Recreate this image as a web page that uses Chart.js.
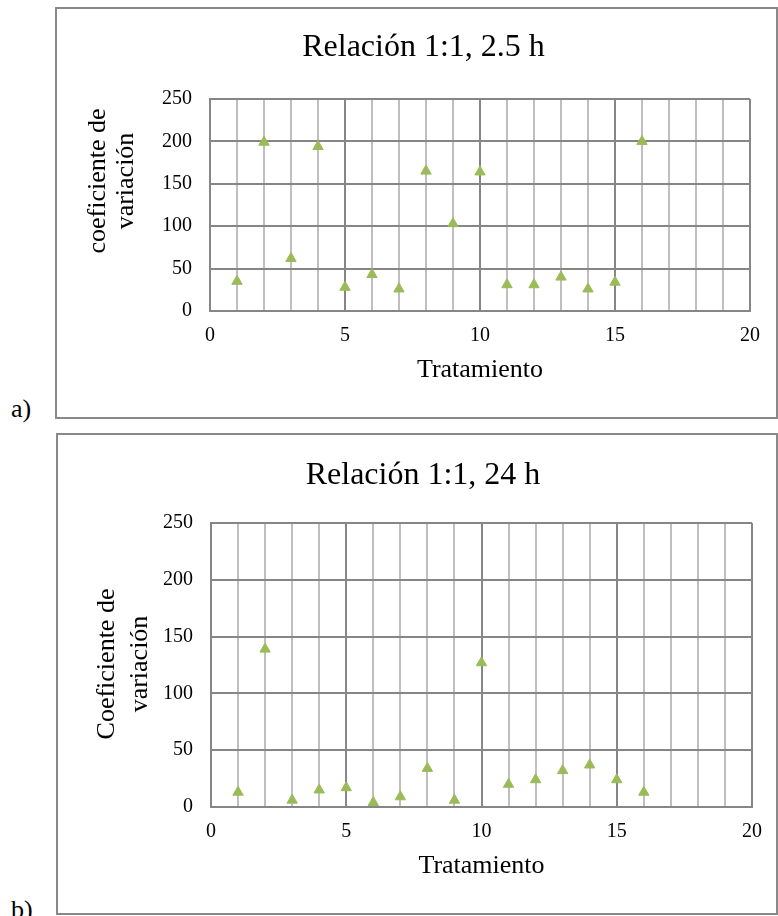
<!DOCTYPE html>
<html>
<head>
<meta charset="utf-8">
<script src="https://cdn.jsdelivr.net/npm/chart.js@4.4.1/dist/chart.umd.min.js"></script>
<style>
  html, body { margin: 0; padding: 0; background: #fff; width: 778px; height: 916px; overflow: hidden; }
  .box { position: absolute; border: 2px solid #898989; box-sizing: border-box; background: #fff; }
  .lbl { position: absolute; font-family: 'Liberation Serif', 'Times New Roman', serif; font-size: 26px; line-height: 26px; color: #000; }
  canvas { position: absolute; }
</style>
</head>
<body>
<div class="box" style="left:55px; top:7px; width:723px; height:412px;"></div>
<canvas id="chartA" width="719" height="408" style="left:57px; top:9px;"></canvas>
<div class="lbl" style="left:11px; top:396px;">a)</div>

<div class="box" style="left:56px; top:433px; width:722px; height:482px;"></div>
<canvas id="chartB" width="718" height="478" style="left:58px; top:435px;"></canvas>
<div class="lbl" style="left:11px; top:897px;">b)</div>

<script>
// ---------- data ----------
const treatments = [1, 2, 3, 4, 5, 6, 7, 8, 9, 10, 11, 12, 13, 14, 15, 16];
const cvA = [35, 199, 62, 194, 28, 43, 26, 165, 103, 164, 31, 31, 40, 26, 34, 200];   // Relación 1:1, 2.5 h
const cvB = [13, 139, 6, 15, 17, 4, 9, 34, 6, 127, 20, 24, 32, 37, 24, 13];           // Relación 1:1, 24 h
const titleA = 'Relación 1:1, 2.5 h';
const titleB = 'Relación 1:1, 24 h';
const yTitleA = ['coeficiente de', 'variación'];
const yTitleB = ['Coeficiente de', 'variación'];
const xTitle = 'Tratamiento';
const xTickLabels = [0, 5, 10, 15, 20];
const yTickLabels = [0, 50, 100, 150, 200, 250];

// ---------- styling ----------
const FONT = "'Liberation Serif', 'Times New Roman', serif";
Chart.defaults.font.family = FONT;
Chart.defaults.color = '#000';
const MARKER = '#9BBB59';
const GRID_DARK = '#868686';
const GRID_LIGHT = '#bfbfbf';

const yTitlePlugin = {
  id: 'yTitlePlugin',
  afterDraw(chart, args, opts) {
    const ctx = chart.ctx;
    ctx.save();
    ctx.font = `${opts.size}px ${FONT}`;
    ctx.fillStyle = '#000';
    ctx.textAlign = 'center';
    ctx.textBaseline = 'middle';
    opts.lines.forEach((t, i) => {
      ctx.save();
      ctx.translate(opts.xs[i], opts.y);
      ctx.rotate(-Math.PI / 2);
      ctx.fillText(t, 0, 0);
      ctx.restore();
    });
    ctx.restore();
  }
};

function makeChart(id, data, cfg) {
  const pts = treatments.map((t, i) => ({ x: t, y: data[i] }));
  return new Chart(document.getElementById(id), {
    type: 'scatter',
    data: {
      datasets: [{
        data: pts,
        pointStyle: 'triangle',
        pointRadius: 6,
        pointHoverRadius: 6,
        backgroundColor: MARKER,
        borderColor: MARKER,
        borderWidth: 1,
        showLine: false
      }]
    },
    options: {
      responsive: false,
      animation: false,
      devicePixelRatio: 1,
      layout: { padding: { left: cfg.padL, right: cfg.padR, top: 0, bottom: cfg.padB } },
      plugins: {
        legend: { display: false },
        tooltip: { enabled: false },
        title: {
          display: true,
          text: cfg.title,
          font: { size: 32, weight: 'normal', lineHeight: 1.2 },
          color: '#000',
          padding: { top: cfg.titlePadT, bottom: cfg.titlePadB }
        },
        yTitlePlugin: { lines: cfg.yTitle, xs: cfg.yTitleXs, y: cfg.yTitleY, size: 26 }
      },
      scales: {
        x: {
          type: 'linear',
          min: 0, max: 20,
          afterFit: s => { s.height = cfg.xAxisH; },
          ticks: {
            stepSize: 1,
            autoSkip: false,
            maxRotation: 0,
            padding: cfg.xTickPad,
            font: { size: 20, lineHeight: 1.2 },
            color: '#000',
            callback: v => xTickLabels.includes(v) ? String(v) : ''
          },
          grid: {
            drawTicks: false,
            lineWidth: 2,
            color: c => (c.tick && c.tick.value % 5 === 0) ? GRID_DARK : GRID_LIGHT
          },
          border: { display: true, color: GRID_DARK, width: 2 },
          title: {
            display: true,
            text: xTitle,
            font: { size: 26, lineHeight: 1.2 },
            color: '#000',
            padding: { top: 0, bottom: 0 }
          }
        },
        y: {
          min: 0, max: 250,
          afterFit: s => { s.width = cfg.yAxisW; },
          ticks: {
            stepSize: 50,
            padding: 18,
            font: { size: 20, lineHeight: 1.2 },
            color: '#000',
            callback: v => yTickLabels.includes(v) ? String(v) : ''
          },
          grid: { drawTicks: false, lineWidth: 2, color: GRID_DARK },
          border: { display: true, color: GRID_DARK, width: 2 }
        }
      }
    },
    plugins: [yTitlePlugin]
  });
}

makeChart('chartA', cvA, {
  title: titleA, yTitle: yTitleA,
  padL: 40, padR: 26, padB: 31,
  titlePadT: 19, titlePadB: 32.6,
  xAxisH: 75, xTickPad: 13,
  yAxisW: 113,
  yTitleXs: [41.3, 69.5], yTitleY: 172
});

makeChart('chartB', cvB, {
  title: titleB, yTitle: yTitleB,
  padL: 36, padR: 24, padB: 31,
  titlePadT: 21, titlePadB: 28.6,
  xAxisH: 75, xTickPad: 13,
  yAxisW: 117,
  yTitleXs: [48.7, 82], yTitleY: 229
});
</script>
</body>
</html>
